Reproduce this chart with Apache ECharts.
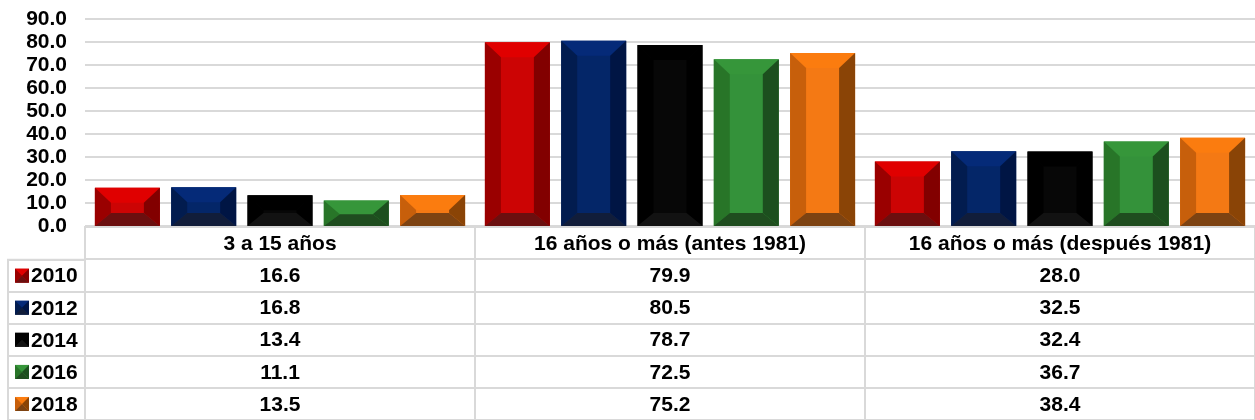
<!DOCTYPE html>
<html>
<head>
<meta charset="utf-8">
<script src="https://cdn.jsdelivr.net/npm/echarts@6/dist/echarts.min.js"></script>
<style>
html, body { margin: 0; padding: 0; background: #fff; }
#chart { width: 1255px; height: 420px; }
</style>
</head>
<body>
<div id="chart"></div>
<script>
// data
var categories = ['3 a 15 años', '16 años o más (antes 1981)', '16 años o más (después 1981)'];
var years = ['2010', '2012', '2014', '2016', '2018'];
var v2010 = [16.6, 79.9, 28.0];
var v2012 = [16.8, 80.5, 32.5];
var v2014 = [13.4, 78.7, 32.4];
var v2016 = [11.1, 72.5, 36.7];
var v2018 = [13.5, 75.2, 38.4];
var seriesValues = [v2010, v2012, v2014, v2016, v2018];

// bevel colours per year: top, face, left, right, bottom
var palette = [
	{top: '#e00000', face: '#cc0404', left: '#9a0000', right: '#820000', bottom: '#6b0f0f'},
	{top: '#052a78', face: '#042668', left: '#021c4f', right: '#001544', bottom: '#111d3a'},
	{top: '#000000', face: '#070707', left: '#000000', right: '#000000', bottom: '#121212'},
	{top: '#36963a', face: '#34923a', left: '#287528', right: '#1c4f1e', bottom: '#1f4d1f'},
	{top: '#fb7c0f', face: '#f47914', left: '#c75f0b', right: '#8a4406', bottom: '#7d4312'}
];

var FONT = "'Liberation Sans', Arial, sans-serif";
var LINE = '#d9d9d9';

function bevelShapes(x0, y0, x1, y1, bx, bt, bb, c){
	return [
		{type: 'rect', shape: {x: x0, y: y0, width: x1 - x0, height: y1 - y0}, style: {fill: c.face}},
		{type: 'polygon', shape: {points: [[x0, y0], [x1, y0], [x1 - bx, y0 + bt], [x0 + bx, y0 + bt]]}, style: {fill: c.top}},
		{type: 'polygon', shape: {points: [[x0, y0], [x0 + bx, y0 + bt], [x0 + bx, y1 - bb], [x0, y1]]}, style: {fill: c.left}},
		{type: 'polygon', shape: {points: [[x1, y0], [x1, y1], [x1 - bx, y1 - bb], [x1 - bx, y0 + bt]]}, style: {fill: c.right}},
		{type: 'polygon', shape: {points: [[x0, y1], [x0 + bx, y1 - bb], [x1 - bx, y1 - bb], [x1, y1]]}, style: {fill: c.bottom}}
	];
}

function barRenderer(idx){
	return function(params, api){
		var cat = api.value(0), val = api.value(1);
		var band = api.size([1, 0])[0];
		var w = band * 65 / 390, gap = band * 11.3 / 390;
		var total = 5 * w + 4 * gap;
		var base = api.coord([cat, 0]);
		var topY = api.coord([cat, val])[1];
		var x0 = base[0] - total / 2 + idx * (w + gap), x1 = x0 + w;
		var h = base[1] - topY;
		var bt = 15, bb = 13;
		if (bt + bb > h){
			bt = h * 15 / 28;
			bb = h * 13 / 28;
		}
		return {type: 'group', children: bevelShapes(x0, topY, x1, base[1], 16, bt, bb, palette[idx])};
	};
}

var barSeries = [];
seriesValues.forEach(function(vals, i){
	barSeries.push({
		name: years[i],
		type: 'custom',
		xAxisIndex: 0,
		yAxisIndex: 0,
		renderItem: barRenderer(i),
		data: vals.map(function(v, k){ return [k, v]; })
	});
});

// table cells: header row + one row per year
var cells = [];
categories.forEach(function(c, k){ cells.push({col: k, row: 0, text: c}); });
seriesValues.forEach(function(vals, i){
	vals.forEach(function(v, k){ cells.push({col: k, row: i + 1, text: v.toFixed(1)}); });
});

var tableSeries = {
	type: 'custom',
	xAxisIndex: 1,
	yAxisIndex: 1,
	renderItem: function(params, api){
		var cell = cells[params.dataIndex];
		var p = api.coord([cell.col, cell.row]);
		return {
			type: 'text', x: p[0], y: p[1] + 1,
			style: {text: cell.text, fill: '#000', fontSize: 21, fontWeight: 'bold', fontFamily: FONT, align: 'center', verticalAlign: 'middle'}
		};
	},
	data: cells.map(function(c){ return [c.col, c.row]; })
};

var legendSeries = {
	type: 'custom',
	xAxisIndex: 2,
	yAxisIndex: 2,
	renderItem: function(params, api){
		var i = params.dataIndex;
		var p = api.coord([0, i]);
		var left = p[0] - api.size([1, 0])[0] / 2;
		var ix = left + 7, iy = p[1] - 7;
		var kids = bevelShapes(ix, iy, ix + 14, iy + 14, 7, 7, 7, palette[i]);
		kids.push({
			type: 'text', x: left + 23, y: p[1] + 1,
			style: {text: years[i], fill: '#000', fontSize: 21, fontWeight: 'bold', fontFamily: FONT, align: 'left', verticalAlign: 'middle'}
		});
		return {type: 'group', children: kids};
	},
	data: years.map(function(y, i){ return [0, i]; })
};

var tableRows = [''].concat(years);
var rowH = 196 / 6;

var chart = echarts.init(document.getElementById('chart'));
var option = {
	animation: false,
	grid: [
		{left: 85, right: 0, top: 19, height: 207},
		{left: 85, right: 0, top: 227, height: 196, show: true, borderColor: LINE, borderWidth: 2},
		{left: 8, width: 77, top: 227 + rowH, height: rowH * 5, show: true, borderColor: LINE, borderWidth: 2}
	],
	xAxis: [
		{gridIndex: 0, type: 'category', data: categories, axisLine: {show: false}, axisTick: {show: false}, axisLabel: {show: false}},
		{gridIndex: 1, type: 'category', data: categories, axisLine: {show: false}, axisTick: {show: false}, axisLabel: {show: false},
			splitLine: {show: true, lineStyle: {color: LINE, width: 2}}},
		{gridIndex: 2, type: 'category', data: [''], axisLine: {show: false}, axisTick: {show: false}, axisLabel: {show: false}}
	],
	yAxis: [
		{gridIndex: 0, type: 'value', min: 0, max: 90, interval: 10,
			axisLine: {show: false}, axisTick: {show: false},
			axisLabel: {margin: 18, color: '#000', fontSize: 21, fontWeight: 'bold', fontFamily: FONT,
				formatter: function(v){ return v.toFixed(1); }},
			splitLine: {lineStyle: {color: LINE, width: 2}}},
		{gridIndex: 1, type: 'category', inverse: true, data: tableRows, axisLine: {show: false}, axisTick: {show: false}, axisLabel: {show: false},
			splitLine: {show: true, lineStyle: {color: LINE, width: 2}}},
		{gridIndex: 2, type: 'category', inverse: true, data: years, axisLine: {show: false}, axisTick: {show: false}, axisLabel: {show: false},
			splitLine: {show: true, lineStyle: {color: LINE, width: 2}}}
	],
	series: barSeries.concat([tableSeries, legendSeries])
};
chart.setOption(option);
</script>
</body>
</html>
